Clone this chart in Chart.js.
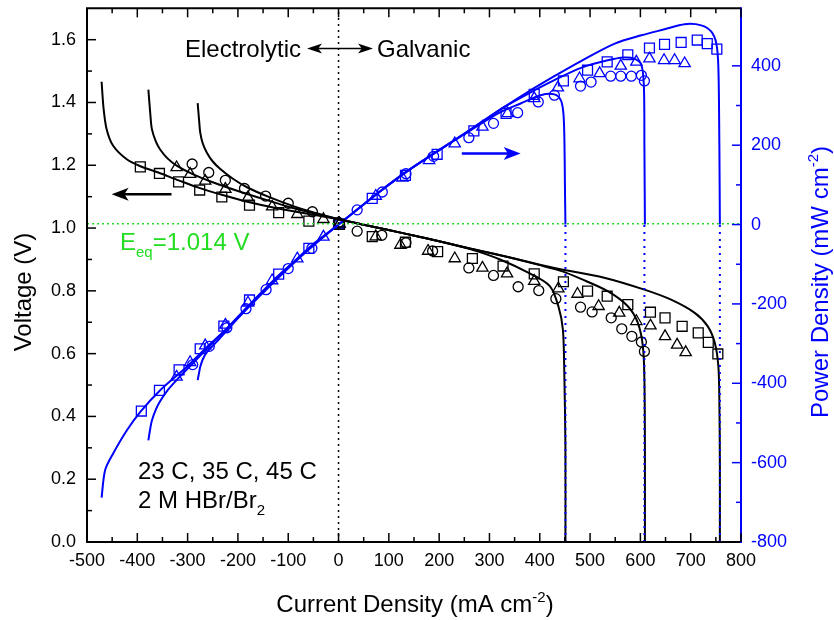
<!DOCTYPE html>
<html>
<head>
<meta charset="utf-8">
<script src="https://cdn.jsdelivr.net/npm/chart.js@4.4.1/dist/chart.umd.min.js"></script>
<style>
  html, body { margin: 0; padding: 0; background: #fff; }
  #wrap { width: 834px; height: 620px; }
</style>
</head>
<body>
<div id="wrap"><canvas id="chart"></canvas></div>
<script>
const FONT = '"Liberation Sans", Arial, Helvetica, sans-serif';
const BLUE = '#0000ff';
const GREEN = '#22dd22';

// axis ranges: current (mA cm-2), voltage (V), power (mW cm-2)
const xRange = [-500, 800];
const vRange = [0, 1.7];
const pRange = [-800, 545];
const eqVoltage = 1.014;

// model curves, voltage vs current
const vFitA = [[-471,1.466],[-467,1.38],[-461,1.315],[-448,1.262],[-421,1.219],[-394,1.197],[-357,1.176],[-318,1.152],[-277,1.128],[-232,1.106],[-177,1.082],[-120,1.062],[-60,1.045],[0,1.028],[64,1.006],[130,0.983],[200,0.958],[263,0.934],[330,0.91],[429,0.873],[528,0.842],[608,0.804],[661,0.772],[708,0.73],[734,0.687],[748,0.634],[755,0.56],[757,0.45],[758,0.25],[758,0]];
const vFitB = [[-378,1.441],[-374,1.36],[-371,1.315],[-363,1.275],[-355,1.251],[-340,1.222],[-321,1.198],[-290,1.172],[-250,1.146],[-200,1.118],[-150,1.093],[-100,1.068],[-50,1.047],[0,1.028],[64,1.006],[130,0.983],[200,0.958],[263,0.934],[330,0.91],[400,0.882],[445,0.862],[482,0.838],[535,0.799],[575,0.751],[595,0.698],[605,0.623],[608,0.517],[609,0.3],[609,0]];
const vFitC = [[-280,1.398],[-277,1.34],[-275,1.305],[-270,1.27],[-262,1.241],[-250,1.212],[-235,1.188],[-210,1.157],[-182,1.13],[-140,1.1],[-90,1.07],[-45,1.048],[0,1.028],[64,1.006],[130,0.983],[200,0.958],[263,0.932],[321,0.9],[381,0.855],[420,0.815],[437,0.751],[446,0.676],[449,0.517],[451,0.3],[451,0]];

// model curves, power density vs current
const pFitA = [[-471,-688],[-464,-619],[-448,-577],[-421,-519],[-394,-472],[-355,-418],[-302,-359],[-262,-309],[-222,-262],[-182,-208],[-129,-140],[-89,-94],[-49,-48],[0,0],[83,84],[136,134],[203,190],[263,240],[329,296],[376,334],[429,374],[482,412],[549,456],[602,477],[648,492],[688,505],[721,502],[741,486],[751,456],[755,397],[757,200],[758,0]];
const pFitB = [[-378,-544],[-374,-512],[-371,-494],[-363,-466],[-355,-446],[-340,-418],[-322,-392],[-290,-350],[-250,-298],[-200,-234],[-150,-172],[-100,-110],[-50,-53],[0,0],[83,84],[136,134],[203,190],[263,240],[329,296],[383,334],[429,364],[482,395],[535,414],[567,421],[588,418],[602,402],[607,347],[608,200],[609,0]];
const pFitC = [[-280,-392],[-277,-372],[-275,-359],[-270,-340],[-262,-322],[-242,-295],[-210,-250],[-170,-196],[-120,-130],[-60,-63],[0,0],[83,84],[136,134],[203,190],[263,238],[320,282],[362,305],[402,326],[429,328],[442,313],[447,280],[449,212],[450,100],[451,0]];

// measured voltage
const vSquares = [[-394,1.195],[-356,1.174],[-318,1.147],[-276,1.121],[-232,1.099],[-177,1.073],[-119,1.049],[-59,1.022],[2,1.012],[67,0.973],[133,0.955],[197,0.925],[266,0.903],[327,0.879],[389,0.854],[447,0.829],[495,0.799],[534,0.783],[575,0.756],[620,0.732],[649,0.714],[683,0.687],[715,0.666],[735,0.636],[754,0.599]];
const vTriangles = [[-322,1.193],[-295,1.172],[-265,1.15],[-225,1.124],[-180,1.097],[-132,1.068],[-82,1.044],[-30,1.028],[2,1.014],[74,0.973],[123,0.946],[178,0.927],[231,0.903],[286,0.873],[335,0.855],[389,0.831],[437,0.807],[475,0.79],[517,0.751],[558,0.73],[592,0.703],[620,0.689],[649,0.655],[673,0.628],[690,0.604]];
const vCircles = [[-291,1.204],[-258,1.177],[-225,1.152],[-187,1.126],[-145,1.102],[-100,1.079],[-52,1.052],[0,1.018],[37,0.99],[86,0.977],[134,0.953],[187,0.927],[259,0.873],[308,0.849],[357,0.813],[398,0.801],[432,0.775],[481,0.748],[504,0.733],[542,0.714],[563,0.679],[583,0.655],[602,0.637],[608,0.607]];

// measured power density
const pSquares = [[-392,-470],[-356,-418],[-317,-366],[-275,-313],[-228,-256],[-177,-190],[-119,-125],[-59,-60],[0,2],[67,66],[133,124],[196,177],[269,236],[333,280],[389,328],[447,362],[495,389],[534,410],[575,428],[618,445],[648,454],[681,459],[713,465],[733,456],[752,442]];
const pTriangles = [[-322,-384],[-295,-347],[-265,-305],[-225,-253],[-180,-197],[-132,-141],[-82,-86],[-30,-31],[2,2],[74,72],[127,118],[180,162],[231,204],[286,246],[336,280],[389,318],[436,345],[479,368],[519,381],[561,400],[592,410],[618,418],[647,414],[668,414],[688,406]];
const pCircles = [[-290,-353],[-257,-307],[-222,-260],[-184,-212],[-144,-164],[-100,-111],[-53,-60],[0,0],[37,37],[87,82],[134,128],[189,172],[259,219],[308,255],[356,282],[397,309],[429,326],[481,349],[502,359],[541,374],[561,374],[582,374],[602,376],[608,362]];

// limiting currents of the three fits
const limitCurrents = [451, 608, 758];

// direction arrows [from, to]
const voltArrow = [[-332, 1.108], [-451, 1.108]];
const powerArrow = [[245, 179], [362, 179]];

function pts(list) {
  return list.map(([x, y]) => ({ x, y }));
}

function curve(data, color, axis, extra) {
  return Object.assign({
    data: pts(data), showLine: true, borderColor: color, borderWidth: 2,
    pointRadius: 0, tension: 0.3, fill: false, yAxisID: axis
  }, extra || {});
}

function marks(data, color, axis, style, r) {
  return {
    data: pts(data), showLine: false, pointStyle: style, pointRadius: r,
    borderColor: color, backgroundColor: 'rgba(0,0,0,0)',
    pointBorderWidth: 1.3, yAxisID: axis
  };
}

const datasets = [
  curve([[0, vRange[0]], [0, vRange[1]]], '#000', 'y', { borderWidth: 1.5, borderDash: [2, 4], tension: 0 }),
  curve([[xRange[0], eqVoltage], [xRange[1], eqVoltage]], GREEN, 'y', { borderWidth: 1.5, borderDash: [2, 3], tension: 0 }),
  ...limitCurrents.map(c => curve([[c, pRange[0]], [c, 0]], BLUE, 'y1', { borderDash: [2, 5], tension: 0 })),
  curve(vFitA, '#000', 'y'),
  curve(vFitB, '#000', 'y'),
  curve(vFitC, '#000', 'y'),
  curve(pFitA, BLUE, 'y1'),
  curve(pFitB, BLUE, 'y1'),
  curve(pFitC, BLUE, 'y1'),
  marks(vSquares, '#000', 'y', 'rect', 7),
  marks(vTriangles, '#000', 'y', 'triangle', 6.5),
  marks(vCircles, '#000', 'y', 'circle', 5),
  marks(pSquares, BLUE, 'y1', 'rect', 7),
  marks(pTriangles, BLUE, 'y1', 'triangle', 6.5),
  marks(pCircles, BLUE, 'y1', 'circle', 5)
];

function seg(ctx, x1, y1, x2, y2, color, w) {
  ctx.strokeStyle = color;
  ctx.lineWidth = w;
  ctx.beginPath();
  ctx.moveTo(x1, y1);
  ctx.lineTo(x2, y2);
  ctx.stroke();
}

function arrowHead(ctx, tipX, tipY, dir, len, half, color) {
  ctx.fillStyle = color;
  ctx.beginPath();
  ctx.moveTo(tipX, tipY);
  ctx.lineTo(tipX - dir * len, tipY - half);
  ctx.lineTo(tipX - dir * len * 0.75, tipY);
  ctx.lineTo(tipX - dir * len, tipY + half);
  ctx.closePath();
  ctx.fill();
}

// text pieces: [text, size, raise]
function pieces(ctx, parts, x, y, align) {
  let total = 0;
  parts.forEach(p => { ctx.font = p[1] + 'px ' + FONT; total += ctx.measureText(p[0]).width; });
  let cx = align === 'center' ? x - total / 2 : x;
  ctx.textAlign = 'left';
  ctx.textBaseline = 'alphabetic';
  parts.forEach(p => {
    ctx.font = p[1] + 'px ' + FONT;
    ctx.fillText(p[0], cx, y - p[2]);
    cx += ctx.measureText(p[0]).width;
  });
}

const decor = {
  id: 'decor',
  afterDatasetsDraw(chart) {
    const { ctx, chartArea: a, scales: { x, y, y1 } } = chart;
    ctx.save();

    // frame
    seg(ctx, a.left - 1, a.top, a.right, a.top, '#000', 2);
    seg(ctx, a.left - 1, a.bottom, a.right, a.bottom, '#000', 2);
    seg(ctx, a.left, a.top, a.left, a.bottom + 1, '#000', 2);
    seg(ctx, a.right, a.top - 1, a.right, a.bottom + 1, BLUE, 2);

    // inward ticks
    x.ticks.forEach(t => {
      const px = x.getPixelForValue(t.value);
      const len = t.value % 100 === 0 ? 9 : 5;
      seg(ctx, px, a.bottom, px, a.bottom - len, '#000', 1.5);
      seg(ctx, px, a.top, px, a.top + len, '#000', 1.5);
    });
    y.ticks.forEach(t => {
      const k = Math.round(t.value * 10);
      if (k <= 0 || k >= 17) return;
      const py = y.getPixelForValue(t.value);
      seg(ctx, a.left, py, a.left + (k % 2 === 0 ? 9 : 5), py, '#000', 1.5);
    });
    y1.ticks.forEach(t => {
      if (t.value % 100 !== 0 || t.value <= pRange[0]) return;
      const py = y1.getPixelForValue(t.value);
      seg(ctx, a.right, py, a.right - (t.value % 200 === 0 ? 9 : 5), py, BLUE, 1.5);
    });

    // direction arrows
    let ax1 = x.getPixelForValue(voltArrow[0][0]), ax2 = x.getPixelForValue(voltArrow[1][0]);
    let ay = y.getPixelForValue(voltArrow[0][1]);
    seg(ctx, ax1, ay, ax2 + 10, ay, '#000', 2.5);
    arrowHead(ctx, ax2, ay, -1, 17, 6.5, '#000');
    ax1 = x.getPixelForValue(powerArrow[0][0]);
    ax2 = x.getPixelForValue(powerArrow[1][0]);
    ay = y1.getPixelForValue(powerArrow[0][1]);
    seg(ctx, ax1, ay, ax2 - 10, ay, BLUE, 2.5);
    arrowHead(ctx, ax2, ay, 1, 17, 6.5, BLUE);

    // Electrolytic <-> Galvanic
    ctx.fillStyle = '#000';
    pieces(ctx, [['Electrolytic', 24, 0]], 185, 57, 'left');
    pieces(ctx, [['Galvanic', 24, 0]], 377, 57, 'left');
    seg(ctx, 312, 48.5, 368, 48.5, '#000', 1.5);
    arrowHead(ctx, 307, 48.5, -1, 15, 5, '#000');
    arrowHead(ctx, 373, 48.5, 1, 15, 5, '#000');

    // equilibrium label
    ctx.fillStyle = GREEN;
    pieces(ctx, [['E', 24, 0], ['eq', 15, -7], ['=1.014 V', 24, 0]], 120, 250, 'left');

    // conditions
    ctx.fillStyle = '#000';
    pieces(ctx, [['23 C, 35 C, 45 C', 24, 0]], 138, 479, 'left');
    pieces(ctx, [['2 M HBr/Br', 24, 0], ['2', 15, -7]], 138, 508, 'left');

    // axis titles
    pieces(ctx, [['Current Density (mA cm', 24, 0], ['-2', 15, 10], [')', 24, 0]], 415, 612, 'center');

    ctx.save();
    ctx.translate(31, 292);
    ctx.rotate(-Math.PI / 2);
    pieces(ctx, [['Voltage (V)', 24, 0]], 0, 0, 'center');
    ctx.restore();

    ctx.save();
    ctx.fillStyle = BLUE;
    ctx.translate(828, 282);
    ctx.rotate(-Math.PI / 2);
    pieces(ctx, [['Power Density (mW cm', 24, 0], ['-2', 15, 10], [')', 24, 0]], 0, 0, 'center');
    ctx.restore();

    ctx.restore();
  }
};

function fixX(s) {
  s.height = 78;
  s.paddingLeft = 0;
  s.paddingRight = 0;
}
function fixY(w) {
  return s => {
    s.width = w;
    s.paddingTop = 0;
    s.paddingBottom = 0;
  };
}

new Chart(document.getElementById('chart'), {
  type: 'scatter',
  data: { datasets },
  options: {
    responsive: true,
    maintainAspectRatio: false,
    animation: false,
    events: [],
    layout: { padding: { top: 8, left: 0, right: 0, bottom: 0 } },
    plugins: { legend: { display: false }, tooltip: { enabled: false } },
    scales: {
      x: {
        type: 'linear', position: 'bottom', min: xRange[0], max: xRange[1],
        grid: { display: false, drawTicks: false }, border: { display: false },
        ticks: {
          stepSize: 50, padding: 8, color: '#000', maxRotation: 0, autoSkip: false,
          font: { family: FONT, size: 18 },
          callback: v => (v % 100 === 0 ? String(v) : '')
        },
        afterFit: fixX
      },
      y: {
        type: 'linear', position: 'left', min: vRange[0], max: vRange[1],
        grid: { display: false, drawTicks: false }, border: { display: false },
        ticks: {
          stepSize: 0.1, padding: 11, color: '#000', autoSkip: false,
          font: { family: FONT, size: 18 },
          callback: v => {
            const k = Math.round(v * 10);
            return k % 2 === 0 && k <= 16 ? (k / 10).toFixed(1) : '';
          }
        },
        afterFit: fixY(87)
      },
      y1: {
        type: 'linear', position: 'right', min: pRange[0], max: pRange[1],
        grid: { display: false, drawTicks: false }, border: { display: false },
        ticks: {
          stepSize: 100, padding: 10, color: BLUE, autoSkip: false,
          font: { family: FONT, size: 18 },
          callback: v => (v % 200 === 0 ? String(v) : '')
        },
        afterFit: fixY(93)
      }
    }
  },
  plugins: [decor]
});
</script>
</body>
</html>
